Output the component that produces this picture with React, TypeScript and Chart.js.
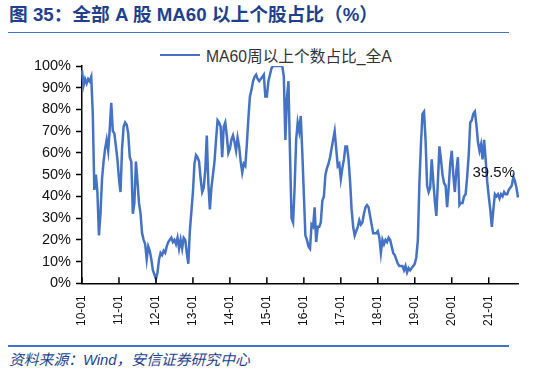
import React, { useEffect, useRef } from "react";
import { Chart, registerables } from "chart.js";

Chart.register(...registerables);

// Year tick labels (one every 24 half-month points)
const yearTicks = ["10-01", "11-01", "12-01", "13-01", "14-01", "15-01", "16-01", "17-01", "18-01", "19-01", "20-01", "21-01"];

// Share of stocks above MA60 (%), half-monthly readings
const v2010 = [98, 91, 94, 92, 94, 93, 95, 78, 43, 50, 42, 22, 32, 48, 56, 62, 66, 61, 71, 83, 70, 69, 63, 57];
const v2011 = [48, 42, 62, 72, 74, 73, 69, 58, 56, 32, 37, 56, 47, 37, 32, 23, 20, 18, 11, 17, 15, 11, 6, 4];
const v2012 = [2, 5, 11, 14, 13, 15, 14, 17, 19, 20, 21, 19, 20, 18, 21, 16, 20, 16, 21, 20, 14, 9, 24, 33];
const v2013 = [42, 55, 59, 58, 56, 48, 42, 44, 52, 68, 46, 34, 44, 50, 56, 66, 75, 74, 72, 58, 72, 74, 68, 60];
const v2014 = [62, 66, 68, 65, 61, 67, 63, 56, 51, 55, 54, 64, 76, 86, 89, 93, 95, 96, 94, 93, 94, 95, 96, 86];
const v2015 = [86, 93, 96, 99, 100, 100, 100, 100, 100, 100, 100, 95, 66, 85, 93, 60, 30, 28, 44, 66, 74, 70, 77, 60];
const v2016 = [41, 22, 20, 17, 16, 27, 26, 35, 19, 26, 26, 28, 38, 40, 50, 53, 55, 58, 62, 66, 70, 62, 54, 55];
const v2017 = [48, 53, 57, 63, 63, 57, 47, 34, 26, 22, 24, 26, 29, 27, 28, 32, 35, 36, 35, 31, 27, 23, 23, 23];
const v2018 = [24, 21, 14, 20, 18, 20, 19, 21, 20, 17, 14, 13, 11, 9, 8, 8, 8, 6, 8, 5, 7, 6, 7, 8];
const v2019 = [9, 12, 20, 46, 64, 78, 79, 66, 45, 42, 44, 57, 47, 38, 31, 47, 63, 57, 50, 46, 45, 35, 44, 55];
const v2020 = [61, 50, 42, 52, 58, 36, 37, 37, 40, 41, 49, 59, 74, 75, 78, 79, 73, 65, 61, 64, 57, 66, 57, 47];
const v2021 = [40, 34, 26, 34, 41, 40, 41, 39, 41, 40, 42, 41, 41, 43, 44, 45, 49, 47, 44, 39.5];

const seriesName = "MA60周以上个数占比_全A";
const lastLabel = "39.5%";

const values = [...v2010, ...v2011, ...v2012, ...v2013, ...v2014, ...v2015, ...v2016, ...v2017, ...v2018, ...v2019, ...v2020, ...v2021];
const categories = values.map((_, i) => {
  const yr = 10 + Math.floor(i / 24);
  const h = i % 24;
  const m = Math.floor(h / 2) + 1;
  return `${yr}-${String(m).padStart(2, "0")}${h % 2 ? "H2" : "H1"}`;
});

const lineColor = "#4472C4";
const navy = "#1f3f8f";
const latin = '"Liberation Sans", Arial, "Noto Sans CJK SC", sans-serif';

const inwardTicks = {
  id: "inwardTicks",
  afterDraw(chart: any) {
    const xs = chart.scales.x;
    const ctx = chart.ctx;
    const bottom = chart.chartArea.bottom;
    ctx.save();
    ctx.strokeStyle = "#000";
    ctx.lineWidth = 1.5;
    xs.ticks.forEach((t: any) => {
      const px = xs.getPixelForValue(t.value);
      ctx.beginPath();
      ctx.moveTo(px, bottom);
      ctx.lineTo(px, bottom - 6);
      ctx.stroke();
    });
    ctx.restore();
  },
};

const endLabel = {
  id: "endLabel",
  afterDatasetsDraw(chart: any) {
    const meta = chart.getDatasetMeta(0);
    const pt = meta.data[meta.data.length - 1];
    if (!pt) return;
    const ctx = chart.ctx;
    ctx.save();
    ctx.font = `15px ${latin}`;
    ctx.fillStyle = "#111";
    ctx.textAlign = "right";
    ctx.textBaseline = "middle";
    ctx.fillText(lastLabel, pt.x - 3, pt.y - 25);
    ctx.restore();
  },
};

export default function App() {
  const ref = useRef<HTMLCanvasElement | null>(null);

  useEffect(() => {
    if (!ref.current) return;
    const chart = new Chart(ref.current, {
      type: "line",
      data: {
        labels: categories,
        datasets: [
          {
            label: seriesName,
            data: values,
            borderColor: lineColor,
            backgroundColor: lineColor,
            borderWidth: 2.5,
            pointRadius: 0,
            tension: 0,
            fill: false,
          },
        ],
      },
      options: {
        animation: false,
        responsive: false,
        maintainAspectRatio: false,
        layout: { padding: { top: 26, right: 32, left: 0, bottom: 0 } },
        plugins: {
          legend: { display: false },
          tooltip: { enabled: false },
        },
        scales: {
          x: {
            type: "category",
            offset: false,
            afterFit: (s: any) => {
              s.height = 61.7;
            },
            afterBuildTicks: (s: any) => {
              s.ticks = s.ticks.filter((t: any) => t.value % 24 === 0);
            },
            grid: { display: true, drawOnChartArea: false, drawTicks: false },
            border: { display: true, color: "#000", width: 1.5 },
            ticks: {
              autoSkip: false,
              minRotation: 90,
              maxRotation: 90,
              padding: 12,
              color: "#111",
              font: { family: latin, size: 12 },
              callback: (v: any) => yearTicks[Math.floor(Number(v) / 24)] ?? "",
            },
          },
          y: {
            min: 0,
            max: 100,
            afterFit: (s: any) => {
              s.width = 82;
            },
            grid: { drawOnChartArea: false, drawTicks: true, tickLength: 6, tickColor: "#000", tickWidth: 1.5 },
            border: { display: true, color: "#000", width: 1.5 },
            ticks: {
              stepSize: 10,
              padding: 5,
              color: "#111",
              font: { family: latin, size: 14.5 },
              callback: (v: any) => `${v}%`,
            },
          },
        },
      },
      plugins: [inwardTicks, endLabel],
    });
    return () => chart.destroy();
  }, []);

  return (
    <div style={{ position: "fixed", left: 0, top: 0, width: 550, height: 372, background: "#fff", overflow: "hidden" }}>
      <div
        style={{
          position: "absolute",
          left: 9,
          top: 4,
          fontFamily: latin,
          fontWeight: "bold",
          fontSize: 18.7,
          lineHeight: "22px",
          color: navy,
          whiteSpace: "nowrap",
        }}
      >
        图 35：全部 A 股 MA60 以上个股占比（%）
      </div>
      <div style={{ position: "absolute", left: 8, top: 31.5, width: 501, height: 1.5, background: lineColor }} />
      <div
        style={{
          position: "absolute",
          left: 160,
          top: 45,
          height: 20,
          display: "flex",
          alignItems: "center",
          whiteSpace: "nowrap",
          fontFamily: latin,
          fontSize: 15.7,
          color: "#333",
        }}
      >
        <span style={{ display: "inline-block", width: 40, height: 2.5, background: lineColor, marginRight: 6 }} />
        <span>{seriesName}</span>
      </div>
      <div style={{ position: "absolute", left: 0, top: 40, width: 550, height: 305 }}>
        <canvas ref={ref} width={550} height={305} style={{ width: 550, height: 305, display: "block" }} />
      </div>
      <div style={{ position: "absolute", left: 8, top: 345, width: 501, height: 1.5, background: lineColor }} />
      <div
        style={{
          position: "absolute",
          left: 9,
          top: 351,
          fontFamily: latin,
          fontStyle: "italic",
          fontSize: 14.8,
          lineHeight: "18px",
          color: navy,
          whiteSpace: "nowrap",
        }}
      >
        资料来源：Wind，安信证券研究中心
      </div>
    </div>
  );
}
